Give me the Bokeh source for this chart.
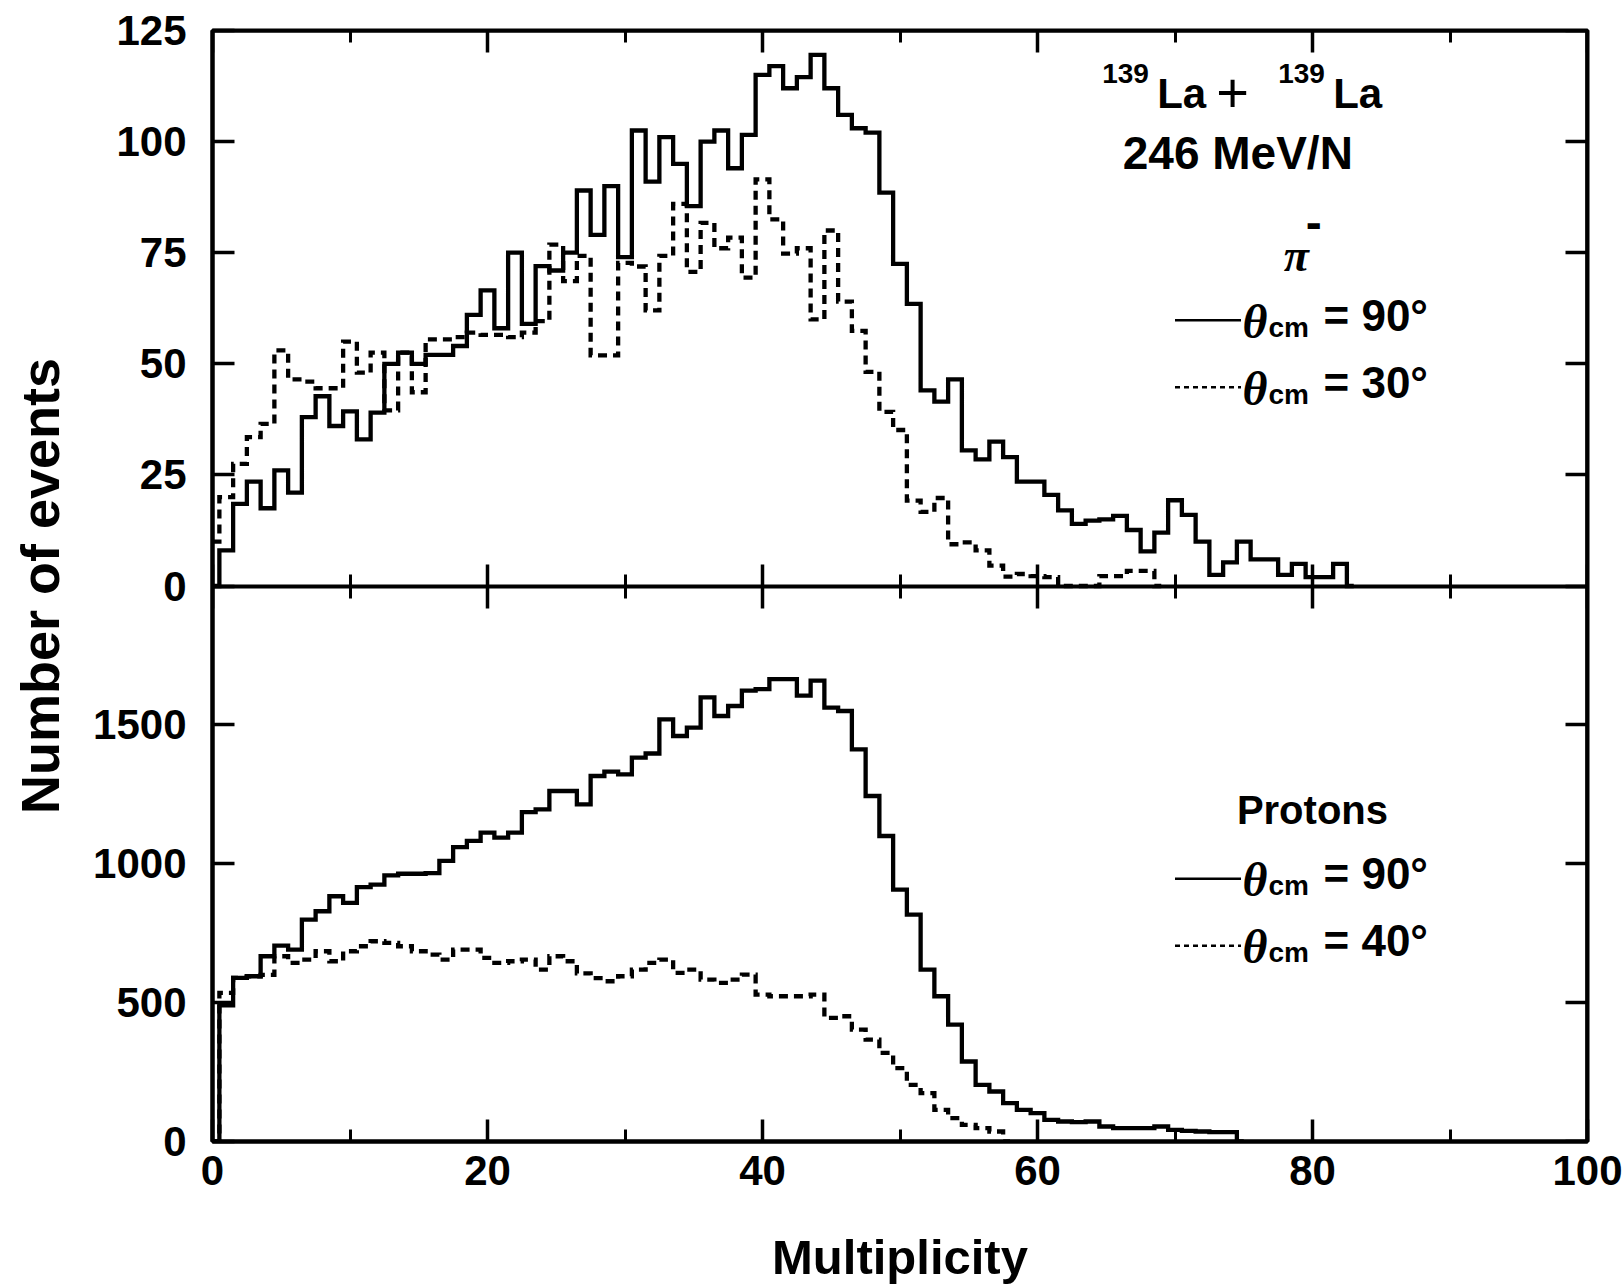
from bokeh.plotting import figure
from bokeh.models import Range1d, LinearAxis, FixedTicker, Label, Arrow, ColumnDataSource
from bokeh.embed import file_html
from bokeh.resources import INLINE

# ---------------- data ----------------
pion_mult_90 = list(range(0, 84))
pion_counts_90 = [0, 8, 18.5, 23.5, 17.5, 26, 21, 38, 42.7, 36,
                  39.3, 33, 39, 50, 52.5, 50, 52, 52, 54, 61,
                  66.5, 58, 75, 59, 72, 71, 75, 89, 79, 90,
                  74, 102.5, 91, 101, 95, 85.5, 100, 102.5, 94, 101.5,
                  115, 117, 112, 114.5, 119.5, 112, 106, 103, 102, 88.5,
                  72.5, 63.5, 44, 41.5, 46.5, 30.5, 28.5, 32.5, 29, 23.5,
                  23.5, 20.5, 17, 14, 14.7, 15, 15.8, 12.6, 7.8, 12,
                  19.3, 16, 10, 2.5, 5.3, 10, 6, 6, 2.5, 5,
                  2, 2, 5, 0]

pion_mult_30 = list(range(0, 70))
pion_counts_30 = [10, 20, 27.5, 33.5, 36.5, 53, 46.5, 46, 44.5, 44.5,
                  55, 48, 52.5, 39.5, 52.5, 43.6, 55.5, 55.5, 56, 57,
                  56.5, 56.5, 56, 57, 59.6, 76.8, 68.6, 74.3, 51.9, 51.9,
                  72.7, 71.9, 62, 74.3, 86, 70.7, 81.7, 76, 78.4, 69.4,
                  91.5, 82.5, 74.8, 76, 60, 80, 64, 57.4, 48.2, 39.2,
                  35.1, 19.2, 16.7, 19.8, 9.4, 9.8, 8, 4.6, 2.1, 2.7,
                  2.2, 2, 0, 0, 0, 2.2, 2.2, 3.4, 3.4, 0]

proton_mult_90 = list(range(0, 76))
proton_counts_90 = [0, 490, 589, 595, 667, 705, 691, 799, 829, 883,
                    859, 916, 925, 958, 964, 964, 966, 1010, 1060, 1082,
                    1112, 1094, 1112, 1186, 1196, 1262, 1262, 1214, 1316, 1332,
                    1322, 1382, 1397, 1520, 1460, 1490, 1599, 1532, 1568, 1623,
                    1629, 1665, 1665, 1605, 1659, 1562, 1550, 1412, 1244, 1100,
                    907, 817, 619, 523, 421, 288, 204, 180, 138, 114,
                    102, 78, 72, 70, 72, 54, 48, 48, 48, 54,
                    42, 38, 36, 34, 34, 0]

proton_mult_40 = list(range(0, 59))
proton_counts_40 = [0, 535, 589, 595, 600, 667, 643, 655, 685, 649,
                    685, 703, 721, 715, 703, 685, 673, 655, 691, 691,
                    661, 643, 649, 655, 619, 667, 649, 605, 588, 577,
                    595, 619, 643, 655, 607, 619, 583, 571, 583, 601,
                    529, 523, 523, 523, 529, 445, 451, 403, 367, 319,
                    264, 204, 174, 114, 84, 60, 48, 36, 0]

x_major_ticks = [0, 20, 40, 60, 80, 100]
x_minor_ticks = [10, 30, 50, 70, 90]
pion_ticks = [0, 25, 50, 75, 100, 125]
proton_ticks = [0, 500, 1000, 1500]

# ---------------- layout ----------------
FONT = "Liberation Sans"
SERIF = "Liberation Serif"
PION_MAX, PROTON_MAX = 125, 2000
# two panels of equal height stacked in one frame:
# the pion scale puts its zero on the middle line, the proton scale on the bottom edge
pion_range = Range1d(-PION_MAX, PION_MAX)
proton_range = Range1d(0, 2 * PROTON_MAX)

p = figure(width=1623, height=1286, x_range=Range1d(0, 100), y_range=pion_range,
           output_backend="svg", toolbar_location=None,
           x_axis_location=None, y_axis_location=None,
           min_border_left=212, min_border_right=36, min_border_top=30, min_border_bottom=144,
           background_fill_color="white", border_fill_color="white")
p.extra_y_ranges = {"protons": proton_range}
p.grid.visible = False
p.outline_line_color = "black"
p.outline_line_width = 4


def style_axis(ax, labels=False, tin=22, tout=0, mtin=0, mtout=0):
    ax.axis_line_width = 4
    ax.axis_line_color = "black"
    ax.major_tick_line_width = 3.5
    ax.major_tick_line_color = "black"
    ax.minor_tick_line_width = 3
    ax.minor_tick_line_color = "black"
    ax.major_tick_in = tin
    ax.major_tick_out = tout
    ax.minor_tick_in = mtin
    ax.minor_tick_out = mtout
    if labels:
        ax.major_label_text_font = FONT
        ax.major_label_text_font_style = "bold"
        ax.major_label_text_font_size = "42px"
        ax.major_label_text_color = "black"
    else:
        ax.major_label_text_font_size = "0px"
        ax.major_label_text_alpha = 0
    return ax


# left axis: one axis carries the labels of both panels
proton_tick_pos = [pion_range.start + v * (pion_range.end - pion_range.start) /
                   (proton_range.end - proton_range.start) for v in proton_ticks]
left_ticks = [float(t) for t in pion_ticks] + proton_tick_pos
left_labels = {float(t): str(t) for t in pion_ticks}
left_labels.update({pos: str(v) for pos, v in zip(proton_tick_pos, proton_ticks)})
ax_left = style_axis(LinearAxis(ticker=FixedTicker(ticks=left_ticks)), labels=True)
ax_left.major_label_overrides = left_labels
ax_left.major_label_standoff = 26
ax_left.axis_label = "Number of events"
ax_left.axis_label_text_font = FONT
ax_left.axis_label_text_font_style = "bold"
ax_left.axis_label_text_font_size = "54px"
ax_left.axis_label_text_color = "black"
ax_left.axis_label_standoff = 20
p.add_layout(ax_left, "left")

# right axes (ticks only, on the frame edge)
p.add_layout(style_axis(LinearAxis(ticker=FixedTicker(ticks=pion_ticks), fixed_location=100)), "right")
p.add_layout(style_axis(LinearAxis(ticker=FixedTicker(ticks=proton_ticks), y_range_name="protons",
                                   fixed_location=100)), "right")
# top axis
p.add_layout(style_axis(LinearAxis(ticker=FixedTicker(ticks=x_major_ticks, minor_ticks=x_minor_ticks),
                                   fixed_location=PION_MAX), mtin=12), "above")
# boundary between the panels, ticks on both sides
p.add_layout(style_axis(LinearAxis(ticker=FixedTicker(ticks=x_major_ticks, minor_ticks=x_minor_ticks),
                                   fixed_location=0), tin=22, tout=22, mtin=12, mtout=12), "below")
# bottom axis with labels
xb = style_axis(LinearAxis(ticker=FixedTicker(ticks=x_major_ticks, minor_ticks=x_minor_ticks)),
                labels=True, mtin=12)
xb.major_label_standoff = 14
xb.axis_label = "Multiplicity"
xb.axis_label_text_font = FONT
xb.axis_label_text_font_style = "bold"
xb.axis_label_text_font_size = "49px"
xb.axis_label_text_color = "black"
xb.axis_label_standoff = 42
p.add_layout(xb, "below")

# ---------------- histograms ----------------
src_pi90 = ColumnDataSource(dict(m=pion_mult_90, n=pion_counts_90))
src_pi30 = ColumnDataSource(dict(m=pion_mult_30, n=pion_counts_30))
src_p90 = ColumnDataSource(dict(m=proton_mult_90, n=proton_counts_90))
src_p40 = ColumnDataSource(dict(m=proton_mult_40, n=proton_counts_40))

LW = 4.3
p.step(x="m", y="n", source=src_pi30, mode="center", line_width=LW, line_color="black",
       line_dash="9 6", line_join="miter")
p.step(x="m", y="n", source=src_pi90, mode="center", line_width=LW, line_color="black",
       line_join="miter")
p.step(x="m", y="n", source=src_p40, mode="center", line_width=LW, line_color="black",
       line_dash="9 6", line_join="miter", y_range_name="protons")
p.step(x="m", y="n", source=src_p90, mode="center", line_width=LW, line_color="black",
       line_join="miter", y_range_name="protons")


# ---------------- annotations ----------------
LIFT = 15  # screen px


def lab(text, x, y, size, rng="default", style="bold", font=FONT, align="left",
        baseline="alphabetic", x_offset=0, y_offset=0):
    p.add_layout(Label(text=text, x=x, y=y, y_range_name=rng, text_font=font,
                       text_font_size=f"{size}px", text_font_style=style, text_color="black",
                       text_align=align, text_baseline=baseline, x_offset=x_offset,
                       y_offset=y_offset + LIFT))


# reaction header
lab("139", 64.7, 112.0, 28)
lab("La", 68.7, 107.5, 42)
lab("+", 73.0, 107.5, 56, style="normal")
lab("139", 77.5, 112.0, 28)
lab("La", 81.5, 107.5, 42)
lab("246 MeV/N", 66.2, 94.0, 46)

# pi- legend
lab("\u03c0", 77.9, 71.0, 46, style="bold italic", font=SERIF)
lab("-", 79.5, 78.5, 48, baseline="middle")


def legend_row(y, angle_text, rng, dashed):
    kw = dict(line_dash="5 4") if dashed else {}
    p.add_layout(Arrow(end=None, x_start=70.0, y_start=y, x_end=74.8, y_end=y,
                       line_width=2.5, line_color="black", y_range_name=rng, **kw))
    lab("\u03b8", 74.9, y, 48, rng=rng, style="bold italic", font=SERIF, y_offset=-16)
    lab("cm", 76.8, y, 28, rng=rng, y_offset=-22)
    lab("= " + angle_text, 80.8, y, 44, rng=rng, y_offset=-10)


legend_row(59.8, "90\u00b0", "default", False)
legend_row(44.7, "30\u00b0", "default", True)

lab("Protons", 74.5, 1140, 40, rng="protons")
legend_row(946, "90\u00b0", "protons", False)
legend_row(705, "40\u00b0", "protons", True)

open("out.html", "w").write(file_html(p, INLINE))
